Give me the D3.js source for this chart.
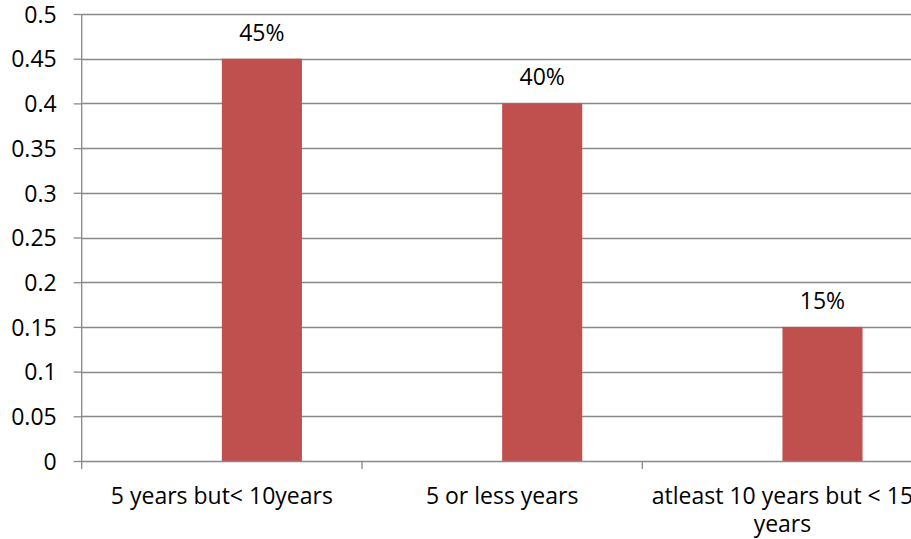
<!DOCTYPE html>
<html>
<head>
<meta charset="utf-8">
<script src="https://cdn.jsdelivr.net/npm/d3@7"></script>
<style>
  html, body { margin: 0; padding: 0; background: #ffffff; }
  svg { display: block; font-family: "Open Sans", "Noto Sans", sans-serif; }
</style>
</head>
<body>
<svg id="chart" width="911" height="539"></svg>
<script>
// Experience groups and the share of respondents in each
const categories = ["5 years but< 10years", "5 or less years", "atleast 10 years but < 15 years"];
const seriesNames = ["Series1", "Series2"];
const series1Values = [null, null, null];
const series2Values = [0.45, 0.40, 0.15];
const valueLabels = ["45%", "40%", "15%"];
const yTickValues = [0, 0.05, 0.1, 0.15, 0.2, 0.25, 0.3, 0.35, 0.4, 0.45, 0.5];
const yTickLabels = ["0", "0.05", "0.1", "0.15", "0.2", "0.25", "0.3", "0.35", "0.4", "0.45", "0.5"];

const svg = d3.select("#chart");
const W = 911, H = 539;
const plot = { left: 81.7, top: 14, bottom: 461, step: 280.3 };
const gridColor = "#898989";
const barColor = "#C0504D";
const fontSize = 23;

const x = d3.scaleBand()
  .domain(categories)
  .range([plot.left, plot.left + plot.step * categories.length])
  .padding(0);

// two series per category, gap width 150% of a bar
const xInner = d3.scaleBand()
  .domain(seriesNames)
  .range([0, x.bandwidth()])
  .paddingInner(0)
  .paddingOuter(0.75);

const y = d3.scaleLinear().domain([0, 0.5]).range([plot.bottom, plot.top]);

// horizontal gridlines
svg.append("g")
  .selectAll("line")
  .data(yTickValues.filter(v => v > 0))
  .join("line")
  .attr("x1", plot.left).attr("x2", W)
  .attr("y1", d => Math.round(y(d)) + 0.5).attr("y2", d => Math.round(y(d)) + 0.5)
  .attr("stroke", gridColor).attr("stroke-width", 1.3);

// y axis
const yAxis = d3.axisLeft(y)
  .tickValues(yTickValues)
  .tickFormat((d, i) => yTickLabels[i])
  .tickSize(8)
  .tickPadding(17);
const gy = svg.append("g")
  .attr("transform", `translate(${plot.left},0)`)
  .call(yAxis);
gy.select(".domain").attr("stroke", gridColor).attr("stroke-width", 1.3)
  .attr("d", `M0,${plot.top}V${plot.bottom}`);
gy.selectAll(".tick line").attr("stroke", gridColor).attr("stroke-width", 1.3);
gy.selectAll(".tick text")
  .attr("font-size", fontSize)
  .attr("font-family", "\"Open Sans\", sans-serif")
  .attr("fill", "#000")
  .attr("dy", "0.357em");

// bars (only the second series carries values)
const rows = categories.map((c, i) => ({ cat: c, values: [series1Values[i], series2Values[i]], label: valueLabels[i] }));

const groups = svg.append("g").selectAll("g")
  .data(rows)
  .join("g")
  .attr("transform", d => `translate(${x(d.cat)},0)`);

groups.selectAll("rect")
  .data(d => d.values.map((v, k) => ({ series: seriesNames[k], value: v })).filter(e => e.value != null))
  .join("rect")
  .attr("x", d => xInner(d.series))
  .attr("width", xInner.bandwidth())
  .attr("y", d => y(d.value))
  .attr("height", d => y(0) - y(d.value))
  .attr("fill", barColor);

// value labels above the bars
groups.append("text")
  .attr("x", xInner(seriesNames[1]) + xInner.bandwidth() / 2)
  .attr("y", d => y(d.values[1]) - 18)
  .attr("text-anchor", "middle")
  .attr("font-size", fontSize)
  .attr("fill", "#000")
  .text(d => d.label);

// x axis line with category boundary ticks
const xAxis = svg.append("g");
xAxis.append("line")
  .attr("x1", plot.left).attr("x2", W)
  .attr("y1", plot.bottom + 0.5).attr("y2", plot.bottom + 0.5)
  .attr("stroke", gridColor).attr("stroke-width", 1.3);
xAxis.selectAll("line.tick")
  .data(categories.map(c => x(c)).concat([x.range()[1]]))
  .join("line")
  .attr("class", "tick")
  .attr("x1", d => d).attr("x2", d => d)
  .attr("y1", plot.bottom).attr("y2", plot.bottom + 8)
  .attr("stroke", gridColor).attr("stroke-width", 1.3);

// category labels, wrapped to the category width
const catLabels = xAxis.selectAll("text.cat")
  .data(categories)
  .join("text")
  .attr("class", "cat")
  .attr("x", d => x(d) + x.bandwidth() / 2)
  .attr("y", 504)
  .attr("text-anchor", "middle")
  .attr("font-size", fontSize)
  .attr("fill", "#000");

catLabels.each(function(d) {
  const t = d3.select(this);
  const words = d.split(" ");
  const maxW = x.bandwidth() - 4;
  let lineWords = [];
  let tspan = t.append("tspan").attr("x", x(d) + x.bandwidth() / 2).attr("dy", 0);
  words.forEach(w => {
    lineWords.push(w);
    tspan.text(lineWords.join(" "));
    if (tspan.node().getComputedTextLength() > maxW && lineWords.length > 1) {
      lineWords.pop();
      tspan.text(lineWords.join(" "));
      lineWords = [w];
      tspan = t.append("tspan").attr("x", x(d) + x.bandwidth() / 2).attr("dy", 28).text(w);
    }
  });
});
</script>
</body>
</html>
